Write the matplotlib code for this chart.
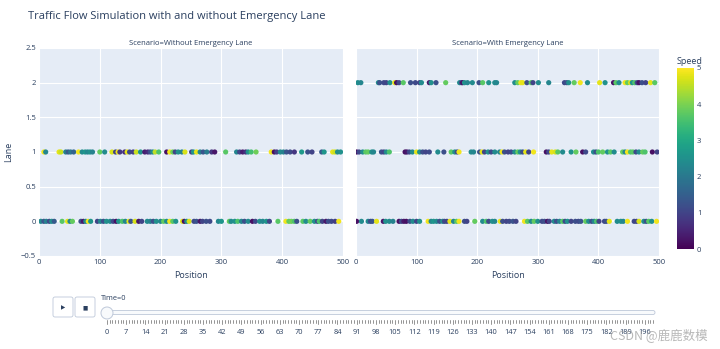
import matplotlib
matplotlib.use("Agg")
import matplotlib.pyplot as plt
import numpy as np
from matplotlib.patches import FancyBboxPatch, Circle

plt.rcParams['font.family'] = ['Open Sans', 'DejaVu Sans']

# ---- data (Time=0 frame) ----
scenarios = ["Without Emergency Lane", "With Emergency Lane"]

# without emergency lane
wo_lane0_pos = [3, 8, 12, 17, 21, 25, 38, 47, 51, 55, 69, 73, 77, 81, 85, 96, 101, 106, 111, 117,
                122, 127, 131, 137, 142, 148, 151, 158, 164, 169, 178, 183, 188, 193, 200, 205, 210, 215,
                220, 225, 236, 239, 243, 247, 255, 259, 265, 269, 275, 281, 295, 300, 313, 316, 322, 327,
                333, 338, 344, 351, 356, 363, 368, 374, 379, 393, 406, 411, 415, 420, 424, 434, 439, 446,
                453, 458, 461, 466, 472, 476, 481, 487, 493]
wo_lane0_speed = [2.4, 1.3, 2.2, 1.1, 2.5, 1.4, 3.7, 4.8, 2.3, 3.8, 1.2, 0.3, 2.4, 4.9, 2.6, 1.0, 2.3, 1.2, 2.5, 2.4,
                  1.1, 0.2, 2.6, 3.6, 2.3, 4.8, 1.3, 4.7, 0.3, 1.0, 2.4, 2.2, 1.2, 2.5, 2.3, 3.8, 2.4, 4.9,
                  3.7, 2.5, 4.8, 0.2, 2.4, 4.7, 1.1, 1.3, 0.3, 1.0, 1.2, 1.1, 2.3, 2.6, 3.8, 2.4, 2.5, 3.6,
                  2.3, 1.2, 2.4, 0.2, 1.1, 2.5, 2.3, 2.6, 1.0, 3.7, 4.9, 3.8, 3.9, 3.6, 1.2, 3.7, 2.4, 3.8,
                  2.5, 1.1, 3.6, 1.0, 0.3, 1.2, 1.1, 0.9, 4.9]
wo_lane1_pos = [8, 11, 33, 36, 44, 48, 52, 57, 65, 71, 76, 80, 84, 88, 100, 108, 120, 126, 130, 133,
                141, 145, 149, 155, 160, 167, 174, 179, 183, 187, 191, 197, 210, 215, 220, 224, 229, 235,
                240, 251, 254, 259, 265, 270, 276, 284, 289, 307, 325, 330, 335, 340, 344, 349, 357, 382,
                387, 391, 397, 402, 407, 413, 420, 432, 442, 449, 465, 469, 483, 487, 491, 496]
wo_lane1_speed = [4.9, 2.3, 4.8, 4.6, 2.2, 1.4, 2.0, 1.6, 4.9, 2.4, 2.6, 2.3, 2.5, 2.2, 3.8, 2.4, 4.7, 1.0, 4.9, 0.8,
                  0.7, 4.8, 1.1, 0.9, 4.6, 2.6, 0.4, 0.6, 1.2, 2.4, 4.5, 3.6, 0.2, 4.9, 3.9, 1.0, 2.5, 2.2,
                  4.7, 0.9, 2.6, 4.8, 2.3, 1.3, 2.1, 0.8, 0.3, 3.7, 2.3, 1.0, 0.4, 0.7, 2.5, 3.5, 3.9, 4.9,
                  0.2, 0.9, 2.4, 2.2, 1.3, 1.1, 0.8, 2.7, 1.2, 1.0, 1.4, 2.6, 4.8, 4.6, 2.4, 2.5]

# with emergency lane
w_lane0_pos = [1, 9, 20, 24, 27, 34, 45, 49, 55, 61, 71, 75, 79, 83, 89, 94, 100, 105, 119, 124,
               128, 133, 138, 143, 146, 150, 155, 161, 166, 170, 179, 183, 196, 209, 215, 219, 225, 229,
               238, 242, 248, 253, 259, 264, 278, 283, 289, 294, 300, 307, 311, 316, 319, 327, 331, 336,
               341, 345, 349, 355, 362, 367, 371, 379, 384, 389, 393, 397, 401, 410, 413, 418, 431, 437,
               441, 448, 459, 463, 467, 475, 479, 483, 488, 496]
w_lane0_speed = [0.2, 2.4, 2.3, 1.1, 1.3, 4.8, 0.3, 2.5, 2.4, 2.2, 0.2, 1.1, 0.3, 0.2, 1.2, 2.4, 1.0, 2.5, 4.9, 2.3,
                 2.6, 2.4, 1.2, 2.5, 1.1, 1.0, 4.8, 2.3, 3.7, 4.9, 1.2, 1.0, 3.8, 2.4, 3.6, 1.1, 2.5, 2.3,
                 4.8, 1.2, 1.0, 1.1, 1.3, 1.0, 4.9, 3.7, 2.4, 3.8, 2.5, 1.1, 1.2, 0.2, 1.0, 2.4, 1.2, 2.3,
                 3.7, 1.1, 2.5, 1.0, 1.2, 1.1, 1.3, 3.8, 2.4, 1.2, 2.3, 3.6, 1.0, 1.1, 1.2, 4.8, 2.4, 2.5,
                 2.3, 4.9, 1.1, 1.0, 4.7, 2.4, 1.2, 3.7, 2.5, 4.9]
w_lane1_pos = [1, 5, 11, 16, 20, 26, 29, 42, 46, 50, 55, 81, 84, 88, 93, 100, 105, 110, 115, 121,
               135, 145, 157, 163, 167, 170, 190, 194, 204, 208, 212, 218, 223, 229, 237, 241, 245, 251,
               256, 262, 267, 271, 275, 280, 285, 293, 314, 318, 323, 329, 333, 341, 355, 363, 374, 379,
               392, 396, 400, 407, 415, 420, 426, 440, 444, 448, 453, 457, 462, 467, 473, 477, 489, 497]
w_lane1_speed = [0.2, 1.1, 2.4, 3.7, 3.8, 2.5, 2.3, 1.2, 1.0, 2.4, 3.6, 0.2, 0.3, 1.1, 2.4, 4.8, 2.5, 1.2, 1.0, 1.1,
                 2.4, 1.2, 3.7, 2.5, 1.1, 4.9, 2.4, 2.3, 1.2, 4.8, 1.0, 2.5, 1.1, 2.4, 2.3, 4.9, 1.2, 1.0,
                 1.1, 2.4, 3.8, 2.5, 1.2, 4.8, 1.0, 4.9, 0.2, 1.1, 4.8, 4.7, 3.7, 2.4, 2.5, 3.8, 0.2, 1.1,
                 2.4, 1.2, 3.6, 3.8, 2.5, 3.7, 2.4, 3.8, 2.3, 4.9, 3.6, 3.7, 1.1, 2.4, 3.8, 3.6, 0.2, 1.0]
w_lane2_pos = [3, 8, 37, 39, 46, 50, 56, 64, 67, 71, 78, 90, 98, 105, 108, 121, 124, 132, 148, 171,
               174, 176, 179, 184, 192, 203, 209, 219, 229, 232, 262, 267, 272, 275, 282, 289, 292, 301,
               318, 344, 348, 351, 360, 370, 382, 402, 411, 425, 429, 434, 444, 448, 453, 456, 460, 464,
               467, 472, 478, 486, 493]
w_lane2_speed = [2.4, 2.3, 2.4, 1.2, 1.1, 1.0, 2.5, 4.8, 0.2, 1.1, 3.7, 1.2, 1.1, 1.0, 2.4, 0.3, 2.5, 1.2, 3.8, 2.4,
                 1.1, 0.2, 2.5, 2.3, 2.4, 1.2, 3.7, 2.5, 2.4, 2.3, 2.4, 3.8, 4.9, 4.8, 1.2, 3.7, 1.0, 2.4,
                 2.3, 1.1, 1.2, 2.5, 3.8, 4.9, 2.4, 4.8, 2.5, 0.2, 3.7, 2.4, 4.9, 3.8, 4.7, 2.5, 3.6, 1.1,
                 0.2, 1.2, 1.0, 4.8, 3.7]

time_steps = np.arange(0, 200)
label_every = 7

# ---- styling ----
BG = '#E5ECF6'
TXT = '#2a3f5f'
W, H = 720, 349

fig = plt.figure(figsize=(W / 100, H / 100), dpi=100)


def px_rect(x0, y0, x1, y1):
    return [x0 / W, 1 - y1 / H, (x1 - x0) / W, (y1 - y0) / H]


ax_l = fig.add_axes(px_rect(39, 48, 343, 256))
ax_r = fig.add_axes(px_rect(356, 48, 659, 256))

data = {
    scenarios[0]: [(wo_lane0_pos, wo_lane0_speed, 0), (wo_lane1_pos, wo_lane1_speed, 1)],
    scenarios[1]: [(w_lane0_pos, w_lane0_speed, 0), (w_lane1_pos, w_lane1_speed, 1),
                   (w_lane2_pos, w_lane2_speed, 2)],
}

sc = None
for ax, name in zip([ax_l, ax_r], scenarios):
    ax.set_facecolor(BG)
    ax.set_xlim(0, 500)
    ax.set_ylim(-0.5, 2.5)
    ax.set_xticks(range(0, 501, 100))
    ax.set_yticks(np.arange(-0.5, 2.51, 0.5))
    ax.grid(True, color='white', lw=0.8)
    ax.set_axisbelow(True)
    ax.axhline(0, color='white', lw=1.6, zorder=1)
    for s in ax.spines.values():
        s.set_visible(False)
    ax.tick_params(length=0, labelsize=5.5, labelcolor=TXT, pad=2)
    for pos, spd, lane in data[name]:
        sc = ax.scatter(pos, [lane] * len(pos), c=spd, cmap='viridis', vmin=0, vmax=5,
                        s=14, linewidths=0, zorder=3)
    ax.set_xlabel('Position', fontsize=6.5, color=TXT, labelpad=4)
    ax.set_title('Scenario=' + name, fontsize=5.5, color=TXT, pad=2)

ax_l.set_yticklabels(['\u22120.5', '0', '0.5', '1', '1.5', '2', '2.5'])
ax_r.tick_params(labelleft=False)
ax_l.set_ylabel('Lane', fontsize=6.5, color=TXT, labelpad=6)

fig.text(28 / W, 1 - 16 / H, 'Traffic Flow Simulation with and without Emergency Lane',
         fontsize=8, color=TXT, va='center', ha='left')

# colorbar
cax = fig.add_axes(px_rect(677, 68, 694, 249))
cb = fig.colorbar(sc, cax=cax)
cb.outline.set_visible(False)
cb.set_ticks(range(0, 6))
cax.tick_params(length=0, labelsize=5.5, labelcolor=TXT, pad=2)
fig.text(690 / W, 1 - 61 / H, 'Speed', fontsize=6.5, color=TXT, ha='center', va='center')

# ---- animation controls (slider) ----
ui = fig.add_axes([0, 0, 1, 1], zorder=-1)
ui.set_xlim(0, W)
ui.set_ylim(H, 0)
ui.axis('off')

for bx, glyph in [(53, '\u25b6'), (75, '\u25a0')]:
    ui.add_patch(FancyBboxPatch((bx, 297), 20, 20, boxstyle='round,pad=0,rounding_size=2',
                                fc='white', ec='#bec8d9', lw=0.6))
    ui.text(bx + 10, 307.5, glyph, fontsize=4, color='#2a3f5f', ha='center', va='center',
            family='DejaVu Sans')

x0, x1 = 107, 653
ui.add_patch(FancyBboxPatch((x0 - 4, 310.5), x1 - x0 + 6, 4, boxstyle='round,pad=0,rounding_size=2',
                            fc='#f8fafc', ec='#bec8d9', lw=0.6))
scale = (x1 - x0) / time_steps[-1]
for t in time_steps:
    tx = x0 + t * scale
    major = t % label_every == 0
    ui.plot([tx, tx], [320, 324 if major else 322.5], color='#444444', lw=0.4)
    if major:
        ui.text(tx, 333, str(t), fontsize=5.3, color=TXT, ha='center', va='center')
ui.add_patch(Circle((x0, 313), 6, fc='#f8fafc', ec='#bec8d9', lw=0.7, zorder=5))
ui.text(101, 299, 'Time=0', fontsize=5.3, color=TXT, ha='left', va='center')

# watermark
fig.text(708 / W, 1 - 335 / H, 'CSDN @鹿鹿数模', fontsize=9, color='#9a9a9a', alpha=0.7,
         ha='right', va='center', family=['Noto Sans CJK SC', 'DejaVu Sans'])

fig.savefig('out.png', dpi=100, facecolor='white')
